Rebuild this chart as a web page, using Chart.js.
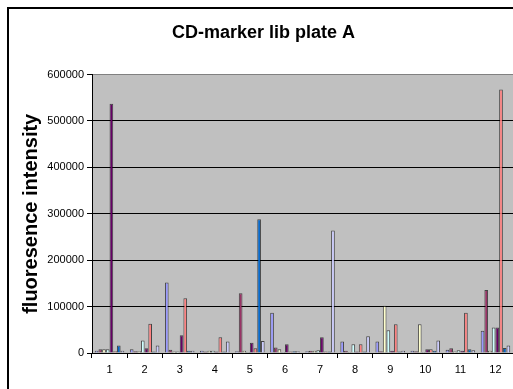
<!DOCTYPE html>
<html>
<head>
<meta charset="utf-8">
<script src="https://cdn.jsdelivr.net/npm/chart.js@4.4.0/dist/chart.umd.min.js"></script>
<style>
  html, body { margin: 0; padding: 0; background: #fff; overflow: hidden; }
</style>
</head>
<body>
<canvas id="chart" width="513" height="389"></canvas>
<script>
// wells 1..12 of the plate, one bar per series in each group
const wells = ["1", "2", "3", "4", "5", "6", "7", "8", "9", "10", "11", "12"];
const series1 = [5000, 8000, 152000, 5000, 4000, 87000, 4000, 25000, 25000, 5000, 7000, 48000];
const series2 = [8000, 4000, 7000, 3000, 129000, 12000, 5000, 5000, 4000, 4000, 10000, 136000];
const series3 = [8000, 4000, 3000, 5000, 5000, 8000, 5000, 2000, 102000, 62000, 3000, 5000];
const series4 = [8000, 27000, 3000, 5000, 2000, 2000, 6000, 19000, 49000, 2000, 6000, 55000];
const series5 = [537000, 10000, 38000, 3000, 22000, 19000, 34000, 3000, 5000, 8000, 5000, 55000];
const series6 = [4000, 63000, 118000, 34000, 10000, 3000, 3000, 19000, 62000, 8000, 87000, 568000];
const series7 = [16000, 3000, 5000, 3000, 288000, 4000, 3000, 3000, 3000, 5000, 8000, 11000];
const series8 = [5000, 16000, 5000, 25000, 26000, 4000, 264000, 36000, 5000, 27000, 6000, 16000];
const yTicks = [0, 100000, 200000, 300000, 400000, 500000, 600000];

const allSeries = [series1, series2, series3, series4, series5, series6, series7, series8];
const colors = ["#9999FF", "#993366", "#FFFFCC", "#CCFFFF", "#660066", "#FF8080", "#0066CC", "#CCCCFF"];

Chart.defaults.font.family = "'Liberation Sans', Arial, sans-serif";
Chart.defaults.color = "#000";

// white page, chart frame and grey plot area like the old Excel look
const frame = {
  id: "frame",
  beforeDraw(chart) {
    const { ctx, chartArea: a } = chart;
    ctx.save();
    ctx.fillStyle = "#fff";
    ctx.fillRect(0, 0, chart.width, chart.height);
    ctx.strokeStyle = "#000";
    ctx.lineWidth = 2;
    ctx.strokeRect(8, 8, chart.width + 20, chart.height + 20);
    ctx.fillStyle = "#c0c0c0";
    ctx.fillRect(a.left, a.top, a.right - a.left, a.bottom - a.top);
    ctx.restore();
  },
};

new Chart(document.getElementById("chart"), {
  type: "bar",
  data: {
    labels: wells,
    datasets: allSeries.map((values, i) => ({
      label: "Series" + (i + 1),
      data: values,
      backgroundColor: colors[i],
      borderColor: "rgba(0,0,0,0.65)",
      borderWidth: 1,
      categoryPercentage: 8 / 9.5,
      barPercentage: 1,
    })),
  },
  options: {
    responsive: false,
    animation: false,
    layout: { padding: { left: 14, right: 0, top: 0, bottom: 0 } },
    plugins: {
      legend: { display: false },
      tooltip: { enabled: false },
      title: {
        display: true,
        text: "CD-marker lib plate A",
        font: { size: 18, weight: "bold" },
        color: "#000",
        padding: { top: 22, bottom: 31 },
      },
    },
    scales: {
      x: {
        afterFit(scale) {
          scale.height = 36;
        },
        grid: {
          display: true,
          drawOnChartArea: false,
          offset: true,
          tickLength: 5,
          color: "#000",
        },
        border: { color: "#000", width: 1 },
        ticks: { font: { size: 11 }, padding: 5, maxRotation: 0 },
      },
      y: {
        min: 0,
        max: 600000,
        afterFit(scale) {
          scale.width = 78;
        },
        afterBuildTicks(scale) {
          scale.ticks = yTicks.map((v) => ({ value: v }));
        },
        title: {
          display: true,
          text: "fluoresence intensity",
          font: { size: 20, weight: "bold" },
          color: "#000",
          padding: { top: 5, bottom: 0 },
        },
        grid: {
          color: (c) => (c.tick && c.tick.value === 600000 ? "#808080" : "#000"),
          tickColor: "#000",
          tickLength: 5,
          lineWidth: 1,
        },
        border: { color: "#000", width: 1 },
        ticks: {
          font: { size: 11 },
          padding: 3,
          callback: (v) => String(v),
        },
      },
    },
  },
  plugins: [frame],
});
</script>
</body>
</html>
